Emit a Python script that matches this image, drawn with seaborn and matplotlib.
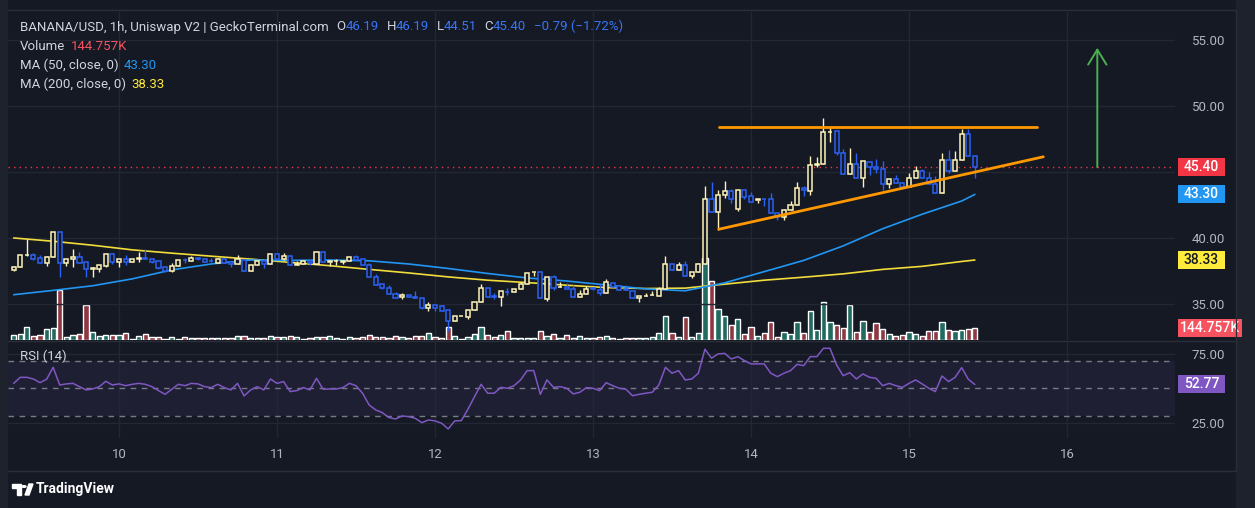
import numpy as np
import pandas as pd
import seaborn as sns
import matplotlib.pyplot as plt
from matplotlib.patches import Rectangle, Polygon, Circle
from matplotlib.lines import Line2D
from matplotlib.transforms import blended_transform_factory

# BANANA/USD 1h candles, first candle day 9 08:00, last day 15 10:00
opens = [
    37.60, 37.83, 38.69, 38.69, 38.48, 38.08, 38.59, 40.43, 38.13, 38.38,
    38.54, 38.16, 37.67, 37.67, 37.90, 38.79, 38.20, 38.38, 38.20, 38.42,
    38.45, 38.38, 38.23, 37.78, 37.47, 37.85, 38.35, 38.25, 38.47, 38.38,
    38.28, 38.13, 38.38, 38.20, 38.00, 38.33, 37.53, 37.95, 38.25, 38.00,
    38.79, 38.43, 38.63, 37.98, 38.00, 38.28, 38.05, 38.91, 38.20, 38.23,
    38.20, 38.28, 38.53, 38.38, 37.93, 37.02, 36.49, 36.24, 35.73, 35.50,
    35.70, 35.50, 35.43, 34.72, 34.90, 34.85, 34.55, 33.71, 34.09, 34.04,
    34.55, 35.15, 36.19, 35.58, 35.55, 35.92, 35.90, 36.14, 36.51, 37.40,
    37.40, 35.38, 37.02, 36.29, 36.29, 36.11, 35.50, 35.73, 36.20, 36.06,
    35.80, 36.62, 36.36, 36.11, 35.96, 35.43, 35.60, 35.66, 35.63, 36.16,
    38.00, 37.55, 37.93, 37.12, 37.40, 38.00, 42.93, 41.99, 43.23, 43.54,
    42.17, 43.61, 43.18, 42.90, 42.95, 42.93, 41.87, 41.57, 42.12, 42.50,
    43.76, 43.59, 45.55, 45.58, 48.03, 48.08, 46.41, 44.82, 45.58, 44.57,
    45.78, 45.35, 45.20, 44.07, 44.44, 44.14, 43.89, 44.52, 45.08, 44.57,
    44.07, 43.43, 45.91, 45.10, 45.91, 47.88, 46.19,
]
highs = [
    37.85, 38.70, 39.90, 38.84, 38.69, 38.60, 40.45, 40.45, 38.40, 39.14,
    38.92, 38.20, 37.83, 37.95, 38.80, 38.89, 38.40, 38.69, 38.40, 38.94,
    39.14, 38.40, 38.23, 37.78, 38.13, 38.35, 38.50, 38.60, 38.47, 38.42,
    38.48, 38.46, 38.40, 38.20, 38.71, 38.35, 37.95, 38.28, 38.38, 38.79,
    38.86, 38.86, 38.63, 38.28, 38.23, 38.28, 38.91, 38.91, 38.20, 38.38,
    38.28, 38.53, 38.71, 38.38, 38.13, 37.25, 36.49, 36.41, 35.93, 35.80,
    35.70, 35.98, 35.43, 35.13, 34.90, 34.90, 34.55, 34.09, 34.10, 34.55,
    35.15, 36.49, 36.19, 35.80, 35.95, 36.24, 36.14, 36.67, 37.32, 37.40,
    37.50, 37.02, 37.20, 36.67, 36.57, 36.40, 36.06, 36.34, 36.30, 36.49,
    36.89, 36.62, 36.36, 36.41, 35.96, 35.58, 35.80, 35.98, 36.31, 38.64,
    38.00, 38.18, 38.28, 37.40, 38.10, 43.96, 44.27, 43.64, 44.32, 43.71,
    43.61, 43.61, 43.50, 42.90, 42.95, 43.38, 41.87, 42.20, 42.83, 44.27,
    43.94, 46.21, 46.16, 49.07, 48.48, 48.08, 46.74, 46.79, 46.41, 45.83,
    45.78, 45.96, 45.83, 44.44, 44.77, 44.27, 44.95, 45.45, 45.20, 45.03,
    44.70, 46.46, 46.67, 46.59, 48.26, 48.26, 46.19,
]
lows = [
    37.50, 37.80, 38.65, 38.33, 38.08, 37.90, 38.58, 37.07, 37.90, 37.83,
    38.10, 37.02, 37.02, 37.45, 37.83, 38.05, 37.83, 37.95, 38.18, 38.20,
    38.40, 38.08, 37.65, 37.45, 37.45, 37.85, 38.10, 38.25, 38.30, 38.20,
    38.20, 38.13, 38.13, 37.83, 38.00, 37.53, 37.53, 37.95, 37.75, 38.00,
    38.43, 38.33, 37.93, 37.98, 38.00, 37.95, 38.05, 38.15, 37.88, 37.95,
    38.03, 38.28, 38.33, 37.93, 37.02, 36.46, 36.11, 35.73, 35.48, 35.36,
    35.50, 35.43, 34.65, 34.50, 34.50, 34.50, 32.98, 33.71, 34.08, 33.89,
    34.55, 35.15, 35.50, 35.35, 34.87, 35.66, 35.90, 36.14, 36.51, 37.12,
    35.43, 35.25, 36.06, 36.29, 36.11, 35.50, 35.50, 35.73, 36.05, 35.68,
    35.80, 36.31, 36.06, 36.05, 35.43, 35.18, 35.60, 35.66, 35.63, 36.16,
    37.55, 37.55, 37.12, 37.00, 37.40, 38.00, 41.99, 40.60, 43.00, 42.63,
    42.07, 42.93, 42.75, 42.63, 42.42, 41.87, 41.36, 41.36, 42.12, 42.50,
    43.18, 43.26, 45.40, 45.58, 47.25, 46.29, 44.82, 44.82, 44.52, 43.89,
    44.77, 44.90, 43.64, 43.81, 44.14, 43.89, 43.89, 44.52, 44.57, 44.07,
    43.43, 43.43, 44.95, 45.10, 45.91, 46.19, 44.51,
]
closes = [
    37.83, 38.69, 38.70, 38.43, 38.08, 38.59, 40.43, 38.13, 38.38, 38.56,
    38.13, 37.63, 37.70, 37.93, 38.79, 38.20, 38.38, 38.20, 38.38, 38.45,
    38.43, 38.20, 37.75, 37.47, 37.85, 38.33, 38.30, 38.45, 38.43, 38.20,
    38.25, 38.38, 38.13, 38.00, 38.38, 37.53, 37.95, 38.28, 38.00, 38.79,
    38.43, 38.63, 37.93, 38.00, 38.23, 38.08, 38.91, 38.15, 38.20, 38.25,
    38.28, 38.53, 38.33, 37.93, 37.02, 36.46, 36.24, 35.73, 35.48, 35.70,
    35.50, 35.45, 34.72, 34.90, 34.72, 34.50, 33.71, 34.09, 34.09, 34.55,
    35.15, 36.19, 35.50, 35.55, 35.95, 35.90, 36.14, 36.51, 37.32, 37.40,
    35.43, 37.02, 36.24, 36.29, 36.11, 35.50, 35.73, 36.11, 36.10, 35.80,
    36.67, 36.31, 36.06, 36.09, 35.43, 35.58, 35.63, 35.66, 36.16, 38.00,
    37.55, 37.93, 37.12, 37.40, 38.00, 42.93, 41.99, 43.23, 43.54, 42.93,
    43.61, 43.13, 42.75, 42.90, 42.93, 41.87, 41.62, 42.12, 42.50, 43.76,
    43.64, 45.53, 45.58, 48.00, 48.05, 46.41, 44.82, 45.58, 44.57, 45.83,
    45.35, 45.20, 44.07, 44.44, 44.14, 43.89, 44.52, 45.08, 44.57, 44.07,
    43.43, 45.91, 45.10, 45.91, 47.88, 46.19, 45.40,
]
volumes_k = [
    64, 72, 157, 48, 64, 133, 145, 603, 36, 64,
    72, 422, 96, 48, 64, 64, 64, 84, 16, 48,
    72, 36, 36, 16, 36, 16, 36, 28, 24, 28,
    24, 24, 24, 24, 48, 48, 24, 24, 24, 48,
    36, 36, 48, 36, 12, 24, 36, 36, 48, 24,
    12, 36, 24, 36, 60, 36, 36, 24, 50, 36,
    24, 48, 48, 84, 36, 24, 157, 48, 12, 36,
    72, 157, 60, 36, 60, 108, 24, 24, 24, 24,
    108, 48, 72, 24, 60, 24, 48, 24, 24, 36,
    48, 24, 12, 24, 24, 24, 24, 36, 84, 290,
    84, 36, 277, 36, 84, 989, 711, 374, 290, 181,
    253, 72, 157, 48, 84, 217, 36, 96, 76, 217,
    88, 350, 117, 458, 217, 177, 145, 422, 96, 229,
    96, 205, 133, 72, 48, 60, 96, 72, 48, 108,
    108, 217, 120, 108, 120, 133, 144.757,
]
rsi = [
    53.6, 58.0, 58.0, 56.8, 54.1, 56.6, 65.3, 52.4, 53.2, 53.6,
    51.2, 48.8, 49.5, 51.2, 55.1, 52.4, 53.2, 51.9, 52.9, 53.6,
    52.9, 51.2, 48.3, 45.6, 49.3, 52.9, 51.9, 53.6, 53.2, 51.2,
    50.5, 52.9, 50.5, 48.8, 53.6, 44.4, 48.8, 51.2, 48.8, 56.8,
    53.6, 54.9, 47.6, 48.3, 50.5, 48.8, 57.3, 49.3, 49.5, 49.5,
    50.5, 53.6, 51.9, 46.4, 37.8, 34.2, 32.2, 28.6, 27.6, 29.8,
    29.3, 28.1, 24.9, 26.9, 26.2, 24.5, 20.3, 26.2, 26.4, 34.7,
    43.9, 52.9, 46.4, 46.4, 50.7, 50.0, 51.9, 56.1, 62.9, 62.9,
    45.6, 56.1, 50.7, 51.2, 50.0, 45.9, 47.1, 50.5, 50.0, 48.3,
    54.1, 51.9, 50.0, 49.3, 44.6, 45.6, 46.4, 47.1, 52.4, 65.3,
    61.0, 62.9, 56.1, 56.8, 61.0, 78.5, 72.0, 75.1, 75.5, 71.4,
    73.1, 70.2, 67.8, 67.8, 67.8, 61.0, 58.5, 61.0, 62.9, 67.5,
    66.5, 73.1, 73.1, 79.2, 79.2, 67.0, 59.2, 61.4, 56.8, 60.5,
    58.0, 57.3, 51.9, 53.6, 51.9, 50.7, 53.6, 56.1, 53.2, 50.0,
    47.6, 59.0, 54.9, 58.0, 65.1, 56.6, 52.77,
]

# moving averages read every 6th candle (plus the last one)
ma_idx = list(range(0, 145, 6)) + [146]
ma50 = [35.70, 36.03, 36.38, 36.90, 37.58, 38.03, 38.33, 38.30, 38.33, 38.27,
        38.03, 37.69, 37.31, 36.97, 36.74, 36.44, 36.14, 36.00, 36.60, 37.45,
        38.30, 39.40, 40.70, 41.80, 42.80, 43.30]
ma200 = [40.00, 39.75, 39.45, 39.10, 38.85, 38.62, 38.40, 38.15, 37.90, 37.62,
         37.35, 37.05, 36.80, 36.62, 36.42, 36.24, 36.17, 36.20, 36.50, 36.80,
         37.03, 37.28, 37.62, 37.85, 38.22, 38.33]

# drawings (hours since day 9 00:00, price)
resist_t, resist_p = [115.1, 163.5], [48.43, 48.43]
support_t, support_p = [115.1, 164.4], [40.66, 46.15]
arrow_t, arrow_from, arrow_to = 172.6, 45.15, 54.62

first_hour = 8
day_labels = ['10', '11', '12', '13', '14', '15', '16']
price_ticks = [35, 40, 45, 50, 55]
rsi_ticks = [25, 75]
rsi_levels = [30, 50, 70]

BG = '#151924'
GRID = '#232733'
FG = '#d1d4dc'
TICK = '#b2b5be'
UP = '#fff3b8'
DOWN = '#2b62f5'
VUP = '#206a60'
VDOWN = '#8e3842'
BLUE = '#3a74f5'
MA50C = '#2196f3'
MA200C = '#f2dc3c'
RSIC = '#7e57c2'
RED = '#f23645'

sns.set_theme(style='dark', rc={
    'figure.facecolor': BG, 'axes.facecolor': BG, 'axes.edgecolor': BG,
    'text.color': FG, 'xtick.color': TICK, 'ytick.color': TICK,
})
plt.rcParams['font.family'] = ['Roboto', 'DejaVu Sans']

W, H = 1255, 508


def rect(x0, y0, x1, y1):
    return [x0 / W, 1 - y1 / H, (x1 - x0) / W, (y1 - y0) / H]


n = len(closes)
t = np.arange(n) + first_hour
o, h, l, c = map(np.array, (opens, highs, lows, closes))
up = c >= o
candle_col = np.where(up, UP, DOWN)
vol_col = np.where(up, VUP, VDOWN)

df = pd.DataFrame({'t': t, 'rsi': rsi})
ma_df = pd.DataFrame({'t': np.array(ma_idx) + first_hour, 'ma50': ma50, 'ma200': ma200})

fig = plt.figure(figsize=(W / 100, H / 100), dpi=100)

# frame strips
fig.add_artist(Rectangle((0, 0), 7 / W, 1, transform=fig.transFigure, color='#1e222d', zorder=0))
fig.add_artist(Rectangle((1236 / W, 0), 19 / W, 1, transform=fig.transFigure, color='#1e222d', zorder=0))

ax_vol = fig.add_axes(rect(8, 12, 1175, 340))
ax_price = ax_vol.twinx()
ax_rsi = fig.add_axes(rect(8, 342, 1175, 438), sharex=ax_vol)

xlim = (7.14, 184.4)
day_t = [(int(d) - 9) * 24 for d in day_labels]

# volume
ax_vol.bar(t, np.array(volumes_k) * 1000, width=0.8, color=vol_col, zorder=2)
ax_vol.set_ylim(0, 3956e3)
ax_vol.set_xlim(*xlim)
ax_vol.set_yticks([])
ax_vol.tick_params(axis='x', labelbottom=False, length=0)
for d in day_t:
    ax_vol.axvline(d, color=GRID, lw=1, zorder=0)

# price
for p in price_ticks:
    ax_price.axhline(p, color=GRID, lw=1, zorder=0)
sns.lineplot(data=ma_df, x='t', y='ma200', ax=ax_price, color=MA200C, lw=1.2, zorder=2)
sns.lineplot(data=ma_df, x='t', y='ma50', ax=ax_price, color=MA50C, lw=1.2, zorder=2)
ax_price.vlines(t, l, h, colors=candle_col, lw=1, zorder=3)
body_lo = np.minimum(o, c)
body_h = np.maximum(np.abs(c - o), 0.02)
ax_price.bar(t, body_h, bottom=body_lo, width=0.62, facecolor=BG,
             edgecolor=candle_col, linewidth=1.1, zorder=4)
ax_price.axhline(c[-1], color=RED, lw=1, ls=(0, (1, 3)), zorder=1)
ax_price.plot(resist_t, resist_p, color='#ff9800', lw=2, zorder=5)
ax_price.plot(support_t, support_p, color='#ff9800', lw=2, zorder=5)
ax_price.annotate('', xy=(arrow_t, arrow_to), xytext=(arrow_t, arrow_from),
                  arrowprops=dict(arrowstyle='->,head_length=0.9,head_width=0.55',
                                  color='#4caf50', lw=1.4), zorder=5)
ax_price.set_ylim(32.27, 57.12)
ax_price.set_xlim(*xlim)
ax_price.set_yticks(price_ticks)
# the 45.00 label sits under the last-price tag
ax_price.set_yticklabels(['' if abs(p - c[-1]) < 1 else f'{p:.2f}' for p in price_ticks])
ax_price.yaxis.tick_right()
ax_price.tick_params(axis='y', length=0, pad=12, labelsize=9.5, labelcolor=TICK)
ax_price.set_xlabel('')
ax_price.set_ylabel('')
for s in ax_price.spines.values():
    s.set_visible(False)
for s in ax_vol.spines.values():
    s.set_visible(False)

# rsi
ax_rsi.axhspan(30, 70, color=RSIC, alpha=0.1, lw=0, zorder=0)
for r in rsi_ticks:
    ax_rsi.axhline(r, color=GRID, lw=1, zorder=0)
for d in day_t:
    ax_rsi.axvline(d, color=GRID, lw=1, zorder=0)
for r in rsi_levels:
    ax_rsi.axhline(r, color='#787b86', lw=1, ls=(0, (4, 4)), zorder=1)
sns.lineplot(data=df, x='t', y='rsi', ax=ax_rsi, color=RSIC, lw=1.1, zorder=3)
ax_rsi.set_ylim(13.7, 83.8)
ax_rsi.set_xlim(*xlim)
ax_rsi.set_yticks(rsi_ticks)
ax_rsi.set_yticklabels([f'{r:.2f}' for r in rsi_ticks])
ax_rsi.yaxis.tick_right()
ax_rsi.tick_params(axis='y', length=0, pad=12, labelsize=9.5, labelcolor=TICK)
ax_rsi.set_xticks(day_t)
ax_rsi.set_xticklabels(day_labels)
ax_rsi.tick_params(axis='x', length=0, pad=7, labelsize=9.5, labelcolor=TICK)
ax_rsi.set_xlabel('')
ax_rsi.set_ylabel('')
for s in ax_rsi.spines.values():
    s.set_visible(False)

# pane separators
for yy in (341, 471):
    fig.add_artist(Line2D([7 / W, 1236 / W], [1 - yy / H] * 2, color='#2a2e39', lw=1))
fig.add_artist(Line2D([1236 / W] * 2, [1 - 471 / H, 1 - 10 / H], color='#2a2e39', lw=1))
fig.add_artist(Line2D([7 / W, 1236 / W], [1 - 10 / H] * 2, color='#2a2e39', lw=1))


def tag(ax, y, text, fc, tc, px_unit, width_px=47):
    axw = 1167
    tr = blended_transform_factory(ax.transAxes, ax.transData)
    hh = 18 * px_unit
    ax.add_patch(Rectangle((1 + 3 / axw, y - hh / 2), width_px / axw, hh, transform=tr,
                           facecolor=fc, edgecolor='none', clip_on=False, zorder=10))
    ax.text(1 + (3 + width_px / 2) / axw, y, text, transform=tr, ha='center', va='center',
            color=tc, fontsize=10, fontweight='medium', clip_on=False, zorder=11)


tag(ax_price, c[-1], f'{c[-1]:.2f}', RED, 'white', 1 / 13.2)
tag(ax_price, ma50[-1], f'{ma50[-1]:.2f}', MA50C, 'white', 1 / 13.2)
tag(ax_price, ma200[-1], f'{ma200[-1]:.2f}', '#ffeb3b', '#131722', 1 / 13.2)
tag(ax_vol, volumes_k[-1] * 1000, f'{volumes_k[-1]:.3f}K', '#f7525f', 'white', 12060, 64)
tag(ax_rsi, rsi[-1], f'{rsi[-1]:.2f}', RSIC, 'white', 1 / 1.37)


def legend_line(x, y, parts, size=9.5):
    prev = fig.text(x / W, 1 - y / H, parts[0][0], color=parts[0][1], fontsize=size, va='center')
    for s, col, gap in parts[1:]:
        prev = ax_price.annotate(s, xy=(1, 0), xycoords=prev, xytext=(gap, 0),
                                 textcoords='offset points', color=col, fontsize=size,
                                 va='bottom', annotation_clip=False)


legend_line(20, 27, [('BANANA/USD, 1h, Uniswap V2 | GeckoTerminal.com', FG),
                     ('O', FG, 5.5), (f'{opens[-1]:.2f}', BLUE, 0),
                     ('H', FG, 5.5), (f'{highs[-1]:.2f}', BLUE, 0),
                     ('L', FG, 5.5), (f'{lows[-1]:.2f}', BLUE, 0),
                     ('C', FG, 5.5), (f'{closes[-1]:.2f}', BLUE, 0),
                     ('\u22120.79 (\u22121.72%)', BLUE, 5.5)])
legend_line(20, 46, [('Volume', FG), (f'{volumes_k[-1]:.3f}K', '#f7525f', 4)])
legend_line(20, 65, [('MA (50, close, 0)', FG), (f'{ma50[-1]:.2f}', MA50C, 4)])
legend_line(20, 84, [('MA (200, close, 0)', FG), (f'{ma200[-1]:.2f}', '#ffeb3b', 4)])
legend_line(20, 356, [('RSI (14)', FG), (f'{rsi[-1]:.2f}', RSIC, 4)])

# TradingView mark
ft = fig.transFigure
fig.add_artist(Polygon([(12 / W, 1 - 484 / H), (21 / W, 1 - 484 / H), (21 / W, 1 - 495 / H),
                        (17 / W, 1 - 495 / H), (17 / W, 1 - 488 / H), (12 / W, 1 - 488 / H)],
                       closed=True, transform=ft, color='white'))
fig.add_artist(Circle((24 / W, 1 - 486.5 / H), 2 / W, transform=ft, color='white'))
fig.add_artist(Polygon([(25 / W, 1 - 495 / H), (29 / W, 1 - 484 / H), (33 / W, 1 - 484 / H),
                        (29 / W, 1 - 495 / H)], closed=True, transform=ft, color='white'))
fig.text(36 / W, 1 - 489 / H, 'TradingView', color='white', fontsize=10, fontweight='bold',
         va='center')

fig.savefig('out.png', dpi=100, facecolor=BG)
